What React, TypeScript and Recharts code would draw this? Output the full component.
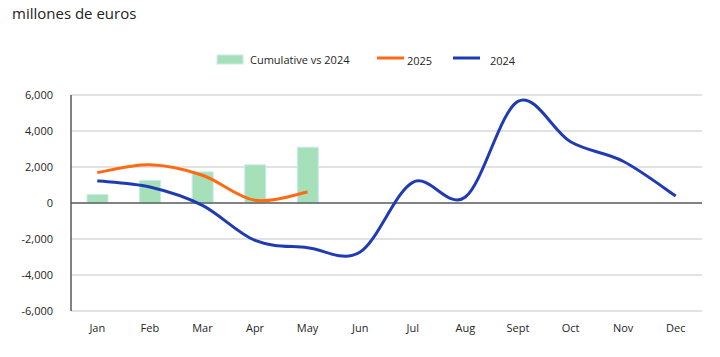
import React from 'react';
import { ComposedChart, Bar, Line, XAxis, YAxis, CartesianGrid, ReferenceLine } from 'recharts';

const months = ['Jan', 'Feb', 'Mar', 'Apr', 'May', 'Jun', 'Jul', 'Aug', 'Sept', 'Oct', 'Nov', 'Dec'];
const cumulative: (number | null)[] = [470, 1260, 1730, 2120, 3100, null, null, null, null, null, null, null];
const s2025: (number | null)[] = [1690, 2120, 1540, 150, 610, null, null, null, null, null, null, null];
const s2024: number[] = [1230, 890, -130, -2080, -2480, -2720, 1150, 330, 5650, 3400, 2320, 390];
const yTicks = [-6000, -4000, -2000, 0, 2000, 4000, 6000];

const data = months.map((m, i) => ({ month: m, cum: cumulative[i], v2025: s2025[i], v2024: s2024[i] }));

// Excel-like smooth curve (Catmull-Rom style Bezier)
const smoothCurve: any = (context: any) => {
  let pts: number[][] = [];
  return {
    areaStart() {},
    areaEnd() {},
    lineStart() { pts = []; },
    point(x: number, y: number) { pts.push([+x, +y]); },
    lineEnd() {
      const n = pts.length;
      if (!n) return;
      context.moveTo(pts[0][0], pts[0][1]);
      for (let i = 0; i < n - 1; i++) {
        const p0 = pts[i - 1] || pts[i];
        const p1 = pts[i];
        const p2 = pts[i + 1];
        const p3 = pts[i + 2] || p2;
        context.bezierCurveTo(
          p1[0] + (p2[0] - p0[0]) / 6, p1[1] + (p2[1] - p0[1]) / 6,
          p2[0] - (p3[0] - p1[0]) / 6, p2[1] - (p3[1] - p1[1]) / 6,
          p2[0], p2[1]
        );
      }
    },
  };
};

const FONT = '"Open Sans", "Noto Sans", sans-serif';

const LegendBox = () => (
  <svg width={720} height={30} style={{ position: 'absolute', left: 0, top: 50 }}>
    <rect x={217} y={5} width={26} height={9} fill="#a6e0b8" stroke="#cbe8f3" strokeWidth={1} />
    <text x={250} y={14} fontSize={11} fill="#262626" fontFamily={FONT}>Cumulative vs 2024</text>
    <line x1={377} y1={8} x2={404} y2={8} stroke="#ff6a13" strokeWidth={3} />
    <text x={407} y={15} fontSize={11} fill="#262626" fontFamily={FONT}>2025</text>
    <line x1={453} y1={8} x2={480} y2={8} stroke="#1f3bb3" strokeWidth={3} />
    <text x={490} y={15} fontSize={11} fill="#262626" fontFamily={FONT}>2024</text>
  </svg>
);

export default function App() {
  return (
    <div style={{ position: 'absolute', left: 0, top: 0, width: 720, height: 357, background: '#fff', fontFamily: FONT }}>
      <div style={{ position: 'absolute', left: 12, top: 3, fontSize: 15, color: '#222' }}>millones de euros</div>
      <ComposedChart
        width={720}
        height={357}
        data={data}
        margin={{ top: 95, right: 18, bottom: 16, left: 0 }}
        barCategoryGap="30%"
      >
        <CartesianGrid vertical={false} stroke="#d9d9d9" strokeWidth={1.5} />
        <XAxis
          dataKey="month"
          axisLine={false}
          tickLine={false}
          height={30}
          tickMargin={7}
          tick={{ fontSize: 11, fill: '#262626', fontFamily: FONT }}
          interval={0}
        />
        <YAxis
          domain={[-6000, 6000]}
          ticks={yTicks}
          width={71}
          axisLine={{ stroke: '#595959', strokeWidth: 1.5 }}
          tickLine={false}
          tickMargin={12}
          tickFormatter={(v: number) => v.toLocaleString('en-US')}
          tick={{ fontSize: 11, fill: '#262626', fontFamily: FONT }}
        />
        <ReferenceLine y={0} stroke="#222" strokeWidth={1.2} />
        <Bar dataKey="cum" name="Cumulative vs 2024" fill="#a6e0b8" stroke="#cbe8f3" strokeWidth={1} barSize={21} isAnimationActive={false} />
        <Line dataKey="v2025" name="2025" type={smoothCurve} stroke="#ff6a13" strokeWidth={3} dot={false} isAnimationActive={false} />
        <Line dataKey="v2024" name="2024" type={smoothCurve} stroke="#1f3bb3" strokeWidth={3} dot={false} isAnimationActive={false} />
      </ComposedChart>
      <LegendBox />
    </div>
  );
}
